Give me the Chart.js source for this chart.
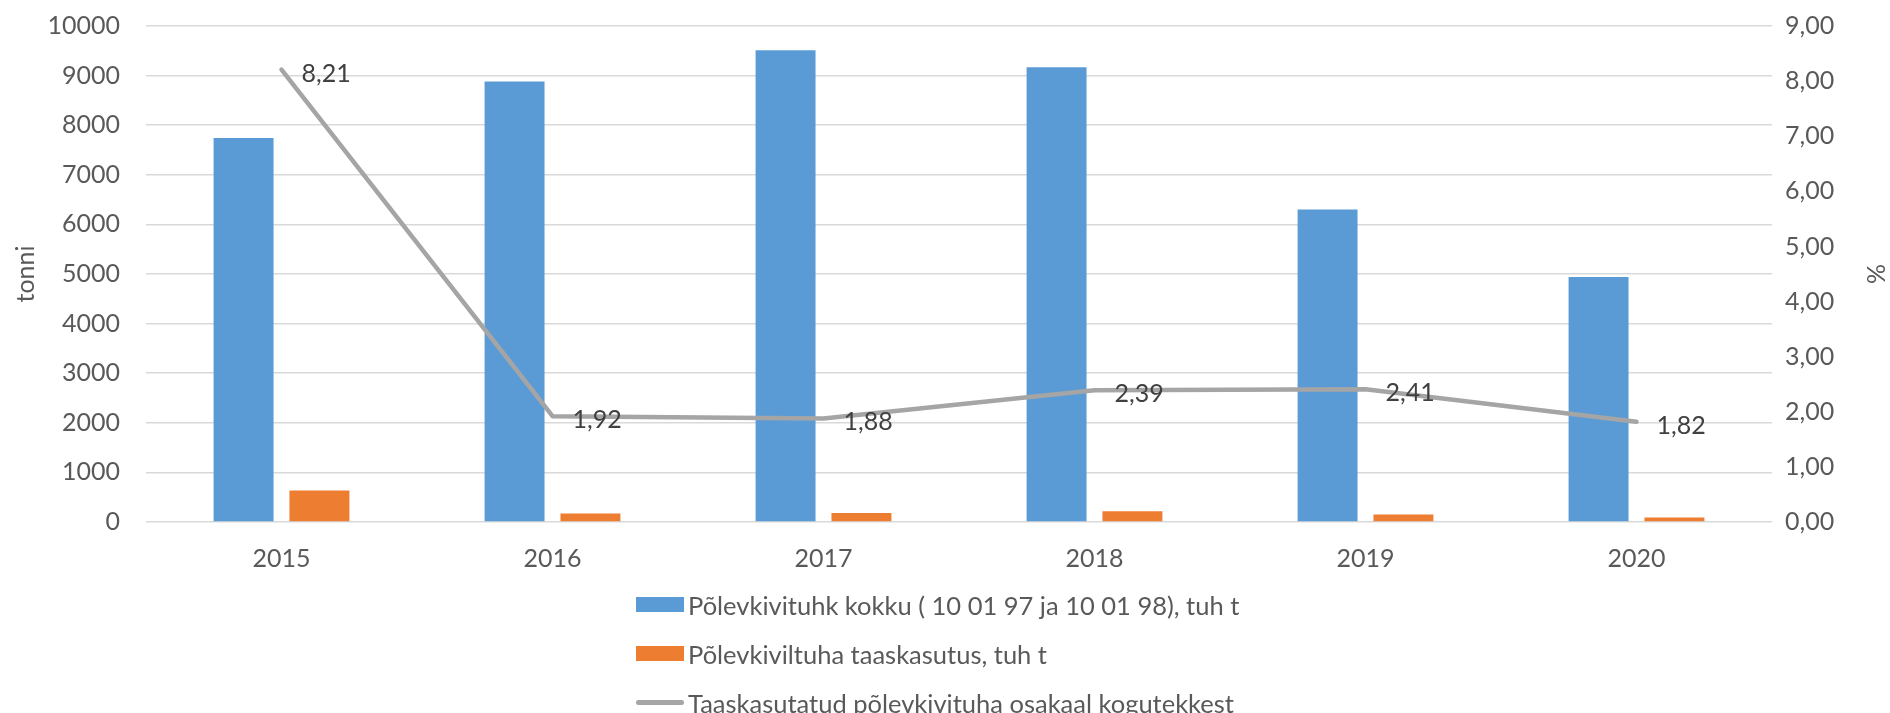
<!DOCTYPE html>
<html>
<head>
<meta charset="utf-8">
<script src="https://cdn.jsdelivr.net/npm/chart.js@4"></script>
<style>
  body { margin: 0; background: #fff; }
  #wrap { position: relative; width: 1890px; height: 713px; overflow: hidden; font-family: Lato, sans-serif; }
  #legend { position: absolute; left: 636px; top: 580px; }
  .item { display: flex; align-items: center; height: 49px; font-size: 25.5px; color: #595959; white-space: nowrap; }
  .box { width: 48px; height: 15px; margin-right: 4px; }
  .ln { width: 48px; height: 5px; border-radius: 3px; margin-right: 4px; }
</style>
</head>
<body>
<div id="wrap">
  <canvas id="myChart" width="1890" height="713"></canvas>
  <div id="legend"></div>
</div>
<script>
// data
var years = ['2015', '2016', '2017', '2018', '2019', '2020'];
var ashTotal = [7740, 8880, 9510, 9170, 6300, 4940];   // tuh t
var ashReuse = [635, 171, 179, 219, 152, 90];          // tuh t
var reuseShare = [8.21, 1.92, 1.88, 2.39, 2.41, 1.82]; // %

var seriesNames = [
  'Põlevkivituhk kokku ( 10 01 97 ja 10 01 98), tuh t',
  'Põlevkiviltuha taaskasutus, tuh t',
  'Taaskasutatud põlevkivituha osakaal kogutekkest'
];
var colors = ['#5B9BD5', '#ED7D31', '#A5A5A5'];

function comma(v, d) {
  return v.toFixed(d).replace('.', ',');
}

// labels next to the line points
var lineLabels = {
  id: 'lineLabels',
  afterDatasetsDraw: function(chart) {
    var meta = chart.getDatasetMeta(2);
    var ctx = chart.ctx;
    ctx.save();
    ctx.font = '25px Lato';
    ctx.fillStyle = '#404040';
    ctx.textAlign = 'left';
    ctx.textBaseline = 'middle';
    meta.data.forEach(function(pt, i) {
      ctx.fillText(comma(reuseShare[i], 2), pt.x + 20, pt.y + 4);
    });
    ctx.restore();
  }
};

function buildLegend() {
  var el = document.getElementById('legend');
  for (var i = 0; i < seriesNames.length; i++) {
    var row = document.createElement('div');
    row.className = 'item';
    var mark = document.createElement('span');
    mark.className = i < 2 ? 'box' : 'ln';
    mark.style.background = colors[i];
    var txt = document.createElement('span');
    txt.textContent = seriesNames[i];
    row.appendChild(mark);
    row.appendChild(txt);
    el.appendChild(row);
  }
}

// fixed axis sizes so the plot area sits where it does in the picture
function fixWidth(w) {
  return function(s) {
    s.width = w;
    s.paddingTop = 0;
    s.paddingBottom = 0;
  };
}

function draw() {
  Chart.defaults.font.family = 'Lato';
  Chart.defaults.font.size = 25;
  Chart.defaults.color = '#595959';

  var ctx = document.getElementById('myChart').getContext('2d');
  new Chart(ctx, {
    type: 'bar',
    data: {
      labels: years,
      datasets: [{
        label: seriesNames[0],
        data: ashTotal,
        backgroundColor: colors[0],
        yAxisID: 'y',
        order: 1
      }, {
        label: seriesNames[1],
        data: ashReuse,
        backgroundColor: colors[1],
        yAxisID: 'y',
        order: 1
      }, {
        type: 'line',
        label: seriesNames[2],
        data: reuseShare,
        borderColor: colors[2],
        borderWidth: 4.5,
        borderCapStyle: 'round',
        borderJoinStyle: 'round',
        pointRadius: 0,
        fill: false,
        tension: 0,
        yAxisID: 'y1',
        order: 0
      }]
    },
    options: {
      responsive: false,
      animation: false,
      devicePixelRatio: 1,
      categoryPercentage: 0.56,
      barPercentage: 0.79,
      layout: { padding: { top: 26, bottom: 121, left: 0, right: 0 } },
      plugins: {
        legend: { display: false },
        tooltip: { enabled: false }
      },
      scales: {
        x: {
          grid: { display: false, drawTicks: false },
          border: { display: false },
          ticks: { padding: 22 },
          afterFit: function(s) { s.height = 70; }
        },
        y: {
          position: 'left',
          min: 0,
          max: 10000,
          ticks: {
            stepSize: 1000,
            padding: 26,
            callback: function(v) { return String(v); }
          },
          grid: { color: '#D9D9D9', lineWidth: 1.6, drawTicks: false },
          border: { display: false },
          title: { display: true, text: 'tonni', padding: { top: 11, bottom: 0 } },
          afterFit: fixWidth(146)
        },
        y1: {
          position: 'right',
          min: 0,
          max: 9,
          ticks: {
            stepSize: 1,
            padding: 13,
            callback: function(v) { return comma(v, 2); }
          },
          grid: { display: false, drawTicks: false },
          border: { display: false },
          title: { display: true, text: '%', padding: { top: 0, bottom: 0 } },
          afterFit: fixWidth(118)
        }
      }
    },
    plugins: [lineLabels]
  });
}

buildLegend();
if (document.fonts && document.fonts.load) {
  document.fonts.load('25px Lato').then(draw, draw);
} else {
  draw();
}
</script>
</body>
</html>
